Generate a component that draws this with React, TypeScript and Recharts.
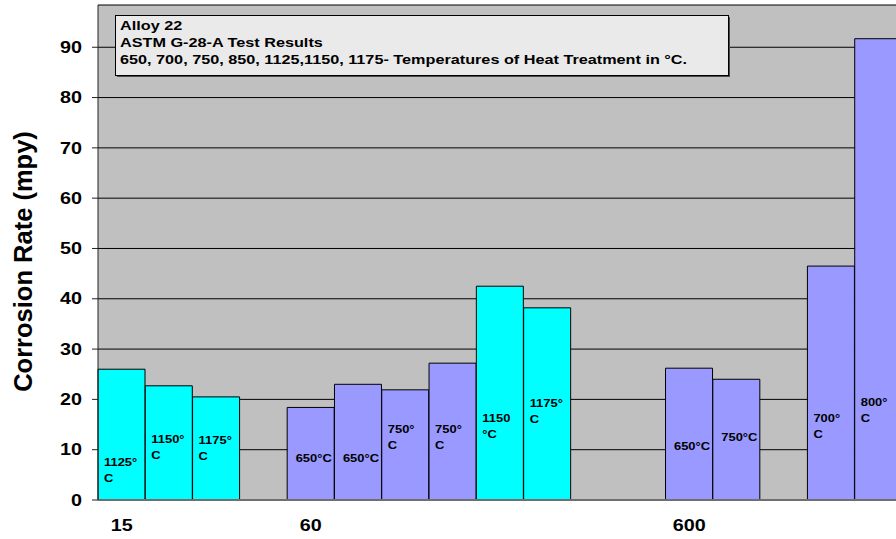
import { BarChart, Bar, XAxis, YAxis, CartesianGrid, Cell, LabelList } from 'recharts';

// exposure period written under the first bar of each group ('' = no label)
const periods = ['15', '', '', '', '60', '', '', '', '', '', '', '', '600', '', '', '', ''];
// heat treatment temperature (°C) of each bar, null = empty slot
const temps = [1125, 1150, 1175, null, 650, 650, 750, 750, 1150, 1175, null, null, 650, 750, null, 700, 800];
// corrosion rate (mpy)
const rates = [26.0, 22.7, 20.5, null, 18.4, 23.0, 21.9, 27.2, 42.5, 38.2, null, null, 26.2, 24.0, null, 46.5, 91.7];
// text inside each bar, lines split by |
const barLabels = ['1125°|C', '1150°|C', '1175°|C', '', '650°C', '650°C', '750°|C', '750°|C', '1150|°C', '1175°|C', '', '', '650°C', '750°C', '', '700°|C', '800°|C'];
const yTicks = [0, 10, 20, 30, 40, 50, 60, 70, 80, 90];
const noteLines = [
  'Alloy 22',
  'ASTM G-28-A Test Results',
  '650, 700, 750, 850, 1125,1150, 1175- Temperatures of Heat Treatment in °C.',
];

// where the label's first line sits, in mpy (labels were hand placed in the original)
const labelLevels = [7.6, 12.1, 11.9, 0, 8.3, 8.3, 14.1, 14.1, 16.3, 19.3, 0, 0, 10.8, 12.4, 0, 16.3, 19.4];

const data = periods.map((p, i) => ({ slot: i, period: p, temp: temps[i], rate: rates[i], label: barLabels[i] }));

const FONT = '"Liberation Sans", Arial, sans-serif';
const CYAN = '#00FFFF';
const LAVENDER = '#9999FF';

const YTick = (props: any) => {
  const { x, y, payload } = props;
  return (
    <text transform={`translate(${x},${y}) scale(1.25,1)`} textAnchor="end" dy="0.36em"
      fontFamily={FONT} fontWeight="bold" fontSize={15.8} fill="#000">
      {payload.value}
    </text>
  );
};

const XTick = (props: any) => {
  const { x, y, payload } = props;
  const txt = periods[payload.value];
  if (!txt) return null;
  return (
    <text transform={`translate(${x},${y + 23}) scale(1.25,1)`} textAnchor="middle"
      fontFamily={FONT} fontWeight="bold" fontSize={15.8} fill="#000">
      {txt}
    </text>
  );
};

const BarText = (props: any) => {
  const { x, y, width, height, value } = props;
  const slot = Number(value);
  const txt = barLabels[slot];
  const rate = rates[slot];
  if (!txt || rate == null) return null;
  const lines = txt.split('|');
  const base = y + height;
  const top = base - (labelLevels[slot] / rate) * height;
  if (lines.length === 1) {
    return (
      <text transform={`translate(${x + width / 2 + 3},${top}) scale(1.21,1)`} textAnchor="middle" dy="0.36em"
        fontFamily={FONT} fontWeight="bold" fontSize={10.7} fill="#000">
        {lines[0]}
      </text>
    );
  }
  return (
    <g>
      {lines.map((ln: string, k: number) => (
        <text key={k} transform={`translate(${x + 6},${top + k * 16}) scale(1.21,1)`} textAnchor="start" dy="0.36em"
          fontFamily={FONT} fontWeight="bold" fontSize={10.7} fill="#000">
          {ln}
        </text>
      ))}
    </g>
  );
};

export default function App() {
  return (
    <div style={{ position: 'absolute', left: 0, top: 0, width: 896, height: 539, overflow: 'hidden', background: '#fff' }}>
      <BarChart width={902} height={539} data={data} margin={{ top: 5, right: 0, bottom: 0, left: 0 }}
        barCategoryGap={0} barGap={0}>
        <CartesianGrid vertical={false} stroke="#000" fill="#C0C0C0" fillOpacity={1} />
        <XAxis dataKey="slot" type="category" interval={0} height={39} tickLine={false}
          axisLine={{ stroke: '#6f6f6f', strokeWidth: 2 }} tick={<XTick />} />
        <YAxis type="number" domain={[0, 98.4]} ticks={yTicks} interval={0} width={98}
          tickSize={6} tickMargin={10} axisLine={{ stroke: '#222' }} tickLine={{ stroke: '#222' }}
          tick={<YTick />} />
        <Bar dataKey="rate" stroke="#000" strokeWidth={1} isAnimationActive={false}>
          {data.map((d, i) => (
            <Cell key={i} fill={d.temp != null && d.temp >= 1000 ? CYAN : LAVENDER} />
          ))}
          <LabelList dataKey="slot" content={<BarText />} />
        </Bar>
      </BarChart>
      <svg width={896} height={539} style={{ position: 'absolute', left: 0, top: 0, pointerEvents: 'none' }}>
        <text transform="translate(23,261.5) rotate(-90)" textAnchor="middle" dy="0.36em"
          fontFamily={FONT} fontWeight="bold" fontSize={25.5} fill="#000">
          Corrosion Rate (mpy)
        </text>
        <rect x={117} y={17} width={613} height={60} fill="#4a4a4a" />
        <rect x={115.5} y={15.5} width={613} height={60} fill="#EAEAEA" stroke="#000" strokeWidth={1} />
        {noteLines.map((ln, k) => (
          <text key={k} transform={`translate(120,${29.5 + k * 17}) scale(1.32,1)`} fontFamily={FONT}
            fontWeight="bold" fontSize={12.3} fill="#000">
            {ln}
          </text>
        ))}
      </svg>
    </div>
  );
}
